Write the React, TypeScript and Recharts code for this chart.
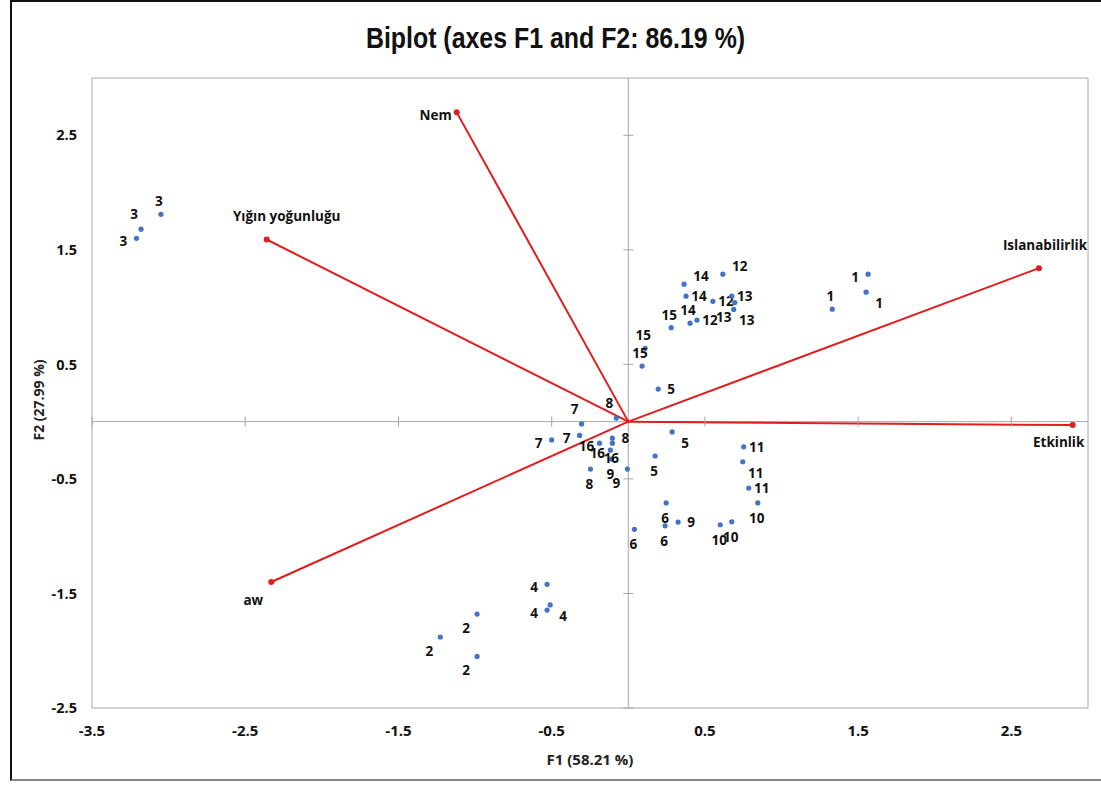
import React from "react";
import { ScatterChart, Scatter, XAxis, YAxis, ReferenceLine, ReferenceDot, ReferenceArea } from "recharts";

// axis ticks
const xTicks = [-3.5, -2.5, -1.5, -0.5, 0.5, 1.5, 2.5];
const yTicks = [-2.5, -1.5, -0.5, 0.5, 1.5, 2.5];

// observations (F1, F2 scores)
const obsNames = [
  "1", "1", "1", "2", "2", "2", "3", "3", "3", "4", "4", "4",
  "5", "5", "5", "6", "6", "6", "7", "7", "7", "8", "8", "8",
  "9", "9", "9", "10", "10", "10", "11", "11", "11", "12", "12", "12",
  "13", "13", "13", "14", "14", "14", "15", "15", "15", "16", "16", "16",
];
const obsF1 = [
  1.565, 1.552, 1.331, -0.987, -1.227, -0.987, -3.21, -3.18, -3.05, -0.53, -0.51, -0.53,
  0.195, 0.286, 0.175, 0.247, 0.24, 0.04, -0.305, -0.318, -0.5, -0.078, -0.104, -0.247,
  -0.11, -0.006, 0.325, 0.6, 0.675, 0.845, 0.753, 0.747, 0.786, 0.617, 0.552, 0.448,
  0.675, 0.695, 0.688, 0.364, 0.377, 0.403, 0.28, 0.11, 0.09, -0.188, -0.104, -0.117,
];
const obsF2 = [
  1.287, 1.13, 0.982, -1.68, -1.88, -2.05, 1.6, 1.68, 1.81, -1.42, -1.6, -1.645,
  0.284, -0.09, -0.3, -0.71, -0.91, -0.94, -0.02, -0.12, -0.16, 0.031, -0.144, -0.414,
  -0.327, -0.414, -0.877, -0.9, -0.875, -0.71, -0.22, -0.35, -0.58, 1.287, 1.05, 0.886,
  1.095, 1.04, 0.98, 1.2, 1.095, 0.86, 0.82, 0.64, 0.485, -0.188, -0.188, -0.249,
];
// where each observation label sits next to its dot
const obsPlace = [
  "l", "br", "t", "bl", "bl", "bl", "l", "tl", "t", "l", "br", "l",
  "r", "br", "b", "b", "b", "b", "tl", "l", "l", "tl", "r", "b",
  "b", "bl", "r", "b", "b", "b", "r", "br", "r", "tr", "r", "r",
  "r", "bl", "br", "tr", "r", "t", "t", "t", "t", "l", "b", "l",
];

// variables (loadings)
const varNames = ["Nem", "Yığın yoğunluğu", "Islanabilirlik", "Etkinlik", "aw"];
const varF1 = [-1.12, -2.36, 2.68, 2.9, -2.33];
const varF2 = [2.7, 1.59, 1.34, -0.03, -1.4];

const obsData = obsNames.map((name, i) => ({ x: obsF1[i], y: obsF2[i], name, place: obsPlace[i] }));
const varData = varNames.map((name, i) => ({ x: varF1[i], y: varF2[i], name }));

const OFF: Record<string, [number, number]> = {
  l: [-13, 3],
  r: [13, 0],
  t: [-2, -13],
  b: [-1, 15],
  tl: [-7, -15],
  tr: [17, -8],
  bl: [-11, 14],
  br: [13, 11],
};

const VAR_OFF: Record<string, [number, number, string]> = {
  Nem: [-5, 3, "end"],
  "Yığın yoğunluğu": [20, -24, "middle"],
  Islanabilirlik: [6, -23, "middle"],
  Etkinlik: [-14, 17, "middle"],
  aw: [-18, 18, "middle"],
};

const RED = "#e11d1d";
const BLUE = "#4472c4";
const GREY = "#a6a6a6";
const labelFont = "'Open Sans', 'Liberation Sans', sans-serif";
const sansFont = "'Liberation Sans', Arial, sans-serif";

function ObsDot(props: any) {
  const { cx, cy } = props;
  const p = props.payload ?? props;
  const [dx, dy] = OFF[p.place] ?? [12, 0];
  return (
    <g>
      <circle cx={cx} cy={cy} r={2.6} fill={BLUE} />
      <text x={cx + dx} y={cy + dy} textAnchor="middle" dominantBaseline="central"
        fontFamily={labelFont} fontWeight={700} fontSize={13.5} fill="#111">{p.name}</text>
    </g>
  );
}

function VarDot(props: any) {
  const { cx, cy } = props;
  const p = props.payload ?? props;
  const [dx, dy, anchor] = VAR_OFF[p.name] ?? [0, -15, "middle"];
  return (
    <g>
      <circle cx={cx} cy={cy} r={3} fill={RED} />
      <text x={cx + dx} y={cy + dy} textAnchor={anchor as any} dominantBaseline="central"
        fontFamily={labelFont} fontWeight={700} fontSize={13.5} fill="#111">{p.name}</text>
    </g>
  );
}

const hTick = (props: any) => <line x1={props.cx - 5} x2={props.cx + 5} y1={props.cy} y2={props.cy} stroke={GREY} strokeWidth={1} />;
const vTick = (props: any) => <line x1={props.cx} x2={props.cx} y1={props.cy - 5} y2={props.cy + 5} stroke={GREY} strokeWidth={1} />;

export default function App() {
  return (
    <div style={{ position: "absolute", left: 0, top: 0, width: 1101, height: 785, background: "#fff", overflow: "hidden" }}>
      <div style={{ position: "absolute", left: 10, top: 0, width: 1091, height: 781, borderLeft: "2px solid #111", borderTop: "2px solid #111", borderBottom: "2px solid #888", boxSizing: "border-box" }} />
      <div style={{ position: "absolute", left: 10, top: 21, width: 1091, textAlign: "center", fontFamily: sansFont, fontWeight: 700, fontSize: 30, color: "#111", transform: "scaleX(0.83)" }}>
        Biplot (axes F1 and F2: 86.19 %)
      </div>
      <div style={{ position: "absolute", left: 92, top: 749, width: 996, textAlign: "center", fontFamily: labelFont, fontWeight: 700, fontSize: 15, color: "#222" }}>
        F1 (58.21 %)
      </div>
      <div style={{ position: "absolute", left: 38, top: 400, transform: "translate(-50%, -50%) rotate(-90deg)", whiteSpace: "nowrap", fontFamily: labelFont, fontWeight: 700, fontSize: 14, color: "#222" }}>
        F2 (27.99 %)
      </div>
      <div style={{ position: "absolute", left: 0, top: 0 }}>
        <ScatterChart width={1101} height={785} margin={{ top: 78, right: 13, bottom: 32, left: 0 }}>
          <XAxis type="number" dataKey="x" domain={[-3.5, 3]} ticks={xTicks} allowDataOverflow
            axisLine={false} tickLine={false} tickSize={0} tickMargin={17} height={45}
            tick={{ fill: "#111", fontFamily: labelFont, fontWeight: 700, fontSize: 15 }} />
          <YAxis type="number" dataKey="y" domain={[-2.5, 3]} ticks={yTicks} allowDataOverflow
            axisLine={false} tickLine={false} tickSize={0} tickMargin={15} width={92}
            tick={{ fill: "#111", fontFamily: labelFont, fontWeight: 700, fontSize: 14.5 }} />
          <ReferenceArea x1={-3.5} x2={3} y1={-2.5} y2={3} fill="none" fillOpacity={0} stroke={GREY} strokeWidth={1} />
          <ReferenceLine x={0} stroke={GREY} strokeWidth={1} />
          <ReferenceLine y={0} stroke={GREY} strokeWidth={1} />
          {yTicks.map((t) => (
            <ReferenceDot key={"yt" + t} x={0} y={t} r={0} shape={hTick} />
          ))}
          {xTicks.map((t) => (
            <ReferenceDot key={"xt" + t} x={t} y={0} r={0} shape={vTick} />
          ))}
          {varData.map((v) => (
            <ReferenceLine key={"seg" + v.name} segment={[{ x: 0, y: 0 }, { x: v.x, y: v.y }]} stroke={RED} strokeWidth={2} />
          ))}
          <Scatter data={obsData} shape={ObsDot} isAnimationActive={false} />
          <Scatter data={varData} shape={VarDot} isAnimationActive={false} />
        </ScatterChart>
      </div>
    </div>
  );
}
